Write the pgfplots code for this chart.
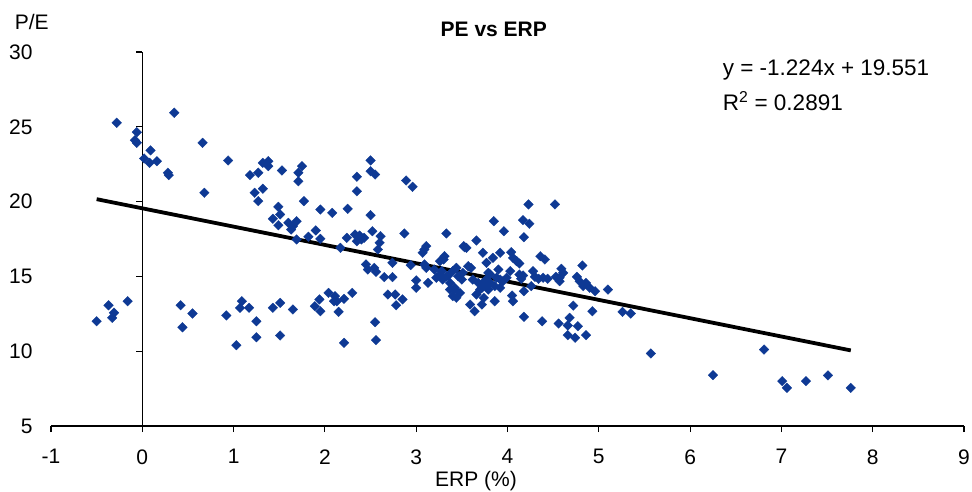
\documentclass[border=0pt]{standalone}
\usepackage{pgfplots}
\pgfplotsset{compat=1.18}
\usepackage{fontspec}
\setmainfont{Liberation Sans}
\definecolor{markblue}{RGB}{14,57,148}

\pgfplotstableread{
x y
-0.28 25.27
-0.06 24.64
-0.08 24.10
-0.06 23.93
-0.50 12.00
-0.37 13.07
-0.31 12.57
-0.33 12.23
-0.16 13.34
0.35 25.94
0.09 23.42
0.02 22.88
0.08 22.59
0.16 22.70
0.28 21.93
0.29 21.77
0.66 23.93
0.68 20.59
0.94 22.75
0.42 13.07
0.55 12.52
0.44 11.60
0.92 12.39
1.18 21.77
1.27 21.93
1.32 22.59
1.38 22.70
1.38 22.37
1.53 22.08
1.32 20.86
1.23 20.59
1.27 20.03
1.49 19.65
1.51 19.14
1.43 18.85
1.49 18.42
1.60 18.58
1.03 10.40
1.09 13.34
1.07 12.90
1.17 12.90
1.25 12.00
1.25 10.93
1.43 12.90
1.51 13.23
1.51 11.05
1.69 18.69
1.63 18.13
1.65 18.36
1.69 17.47
1.71 21.36
1.71 21.93
1.75 22.37
1.77 20.03
1.82 17.65
1.90 18.07
1.95 17.51
1.95 19.47
1.65 12.79
1.89 13.01
1.94 13.46
1.95 12.67
2.08 19.25
2.25 19.52
2.35 21.66
2.35 20.69
2.17 16.91
2.24 17.58
2.33 17.80
2.38 17.73
2.43 17.58
2.35 17.35
2.40 17.47
2.04 13.90
2.11 13.68
2.13 13.34
2.10 13.34
2.21 13.50
2.30 13.90
2.15 12.63
2.21 10.56
2.50 22.75
2.50 22.03
2.55 21.81
2.89 21.41
2.96 20.99
2.50 19.09
2.52 18.02
2.61 17.69
2.60 17.25
2.58 16.80
2.87 17.87
2.74 15.91
2.45 15.80
2.47 15.46
2.54 15.57
2.56 15.31
2.65 14.95
2.74 14.95
2.94 15.75
2.69 13.79
2.77 13.79
2.85 13.46
2.78 13.07
2.55 11.94
2.56 10.74
3.00 14.73
3.00 14.24
3.13 14.57
3.07 16.58
3.11 17.02
3.09 16.80
3.09 15.80
3.11 15.57
3.33 17.87
3.66 17.40
3.52 17.02
3.53 16.95
3.30 16.13
3.31 16.35
3.26 16.02
3.55 16.91
3.73 16.58
3.77 15.91
3.20 15.46
3.26 15.13
3.29 14.79
3.33 15.01
3.37 14.57
3.40 15.35
3.44 15.57
3.46 15.01
3.50 14.79
3.42 14.12
3.48 13.90
3.40 13.68
3.22 14.91
3.28 15.35
3.35 15.05
3.42 14.24
3.37 14.12
3.44 13.57
3.51 15.24
3.57 15.68
3.60 15.57
3.62 14.79
3.68 14.57
3.70 14.12
3.77 14.57
3.59 13.12
3.64 12.67
3.66 13.79
3.72 13.12
3.74 13.57
3.79 14.12
3.75 14.68
3.79 15.24
3.72 14.24
3.77 14.79
3.81 15.13
3.90 15.46
3.92 14.79
3.99 14.91
3.85 18.69
3.96 18.02
3.84 16.24
3.92 16.58
3.88 14.91
3.95 14.68
3.81 14.57
3.73 14.35
3.86 14.35
3.92 14.24
3.86 13.34
4.23 19.81
4.52 19.81
4.17 18.76
4.24 18.52
4.18 17.62
4.04 16.62
4.06 16.24
4.10 16.02
4.13 15.86
4.36 16.35
4.41 16.13
4.82 15.73
4.59 15.51
4.61 15.24
4.57 14.91
4.53 14.97
4.57 14.68
4.28 15.35
4.30 14.97
4.34 14.84
4.39 14.91
4.44 14.84
4.17 15.06
4.15 14.84
4.18 14.01
4.03 15.35
4.05 13.72
4.06 13.34
4.76 14.97
4.79 14.68
4.83 14.35
4.86 14.57
4.90 14.24
4.96 14.01
4.72 13.05
4.93 12.67
4.18 12.30
4.38 12.00
4.56 11.85
4.68 12.23
4.66 11.72
4.77 11.67
4.66 11.07
4.74 10.90
4.86 11.07
4.13 15.13
4.26 14.35
5.10 14.12
5.26 12.63
5.35 12.52
5.57 9.85
6.25 8.40
6.81 10.11
7.01 8.00
7.06 7.55
7.27 8.00
7.51 8.38
7.76 7.55
}\pedata

\begin{document}
\begin{tikzpicture}[font=\fontsize{21}{25}\selectfont]
\path[use as bounding box] (-51pt,-65pt) rectangle (921pt,426pt);
\begin{axis}[
  scale only axis,
  width=913pt, height=374pt,
  xmin=-1, xmax=9, ymin=5, ymax=30,
  axis lines*=left,
  axis line style={-, line width=1.3pt},
  y axis line style={draw=none},
  ytick style={draw=none},
  xtick={-1,0,1,2,3,4,5,6,7,8,9},
  xticklabels={-1,0,1,2,3,4,5,6,7,8,9},
  ytick={5,10,15,20,25,30},
  yticklabels={5,10,15,20,25,30},
  tick align=outside,
  major tick length=6pt,
  xtick style={black, line width=1.2pt},
  xticklabel style={yshift=-14pt},
  yticklabel style={xshift=-9pt},
  clip=false,
]
\draw[line width=1.4pt] (axis cs:0,5) -- (axis cs:0,30);
\pgfplotsinvokeforeach{5,10,15,20,25,30}{
  \draw[line width=1.2pt] (axis cs:0,#1) -- ++(-6pt,0pt);
}
\addplot[only marks, mark=square*, mark size=3.4pt,
  mark options={rotate=45, fill=markblue, draw=markblue, line width=0.3pt}]
  table[x=x, y=y] {\pedata};
\addplot[black, line width=3.8pt, mark=none] coordinates {(-0.5,20.163) (7.76,10.053)};
\node[anchor=center] at (rel axis cs:0.485,1.061) {\bfseries PE vs ERP};
\node[anchor=center] at (rel axis cs:-0.021,1.080) {P/E};
\node[anchor=center] at (rel axis cs:0.4655,-0.146) {ERP (\%)};
\node[anchor=west, font=\fontsize{22.5}{27}\selectfont] at (rel axis cs:0.732,0.952) {y = -1.224x + 19.551};
\node[anchor=west, font=\fontsize{22.5}{27}\selectfont] at (rel axis cs:0.732,0.869) {R\textsuperscript{2} = 0.2891};
\end{axis}
\end{tikzpicture}
\end{document}
